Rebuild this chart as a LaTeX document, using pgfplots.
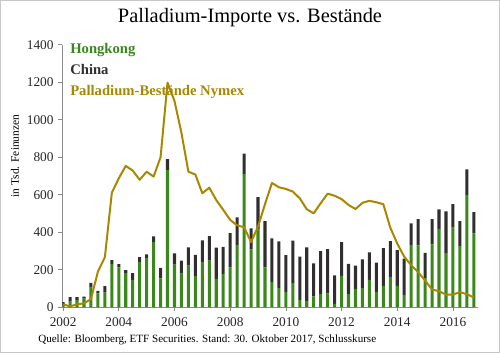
\documentclass[border=0pt]{standalone}
\usepackage{fontspec}
\setmainfont{Liberation Serif}
\usepackage{pgfplots}
\pgfplotsset{compat=1.18}
\usepackage{pgfplotstable}
\definecolor{hkgreen}{RGB}{58,135,28}
\definecolor{cndark}{RGB}{48,46,46}
\definecolor{pdgold}{RGB}{168,136,0}
\definecolor{axgray}{RGB}{140,140,140}

\pgfplotstableread{
x hk cn nymex
2002.00 12 16 16
2002.25 30 25 5
2002.50 40 15 16
2002.75 47 10 21
2003.00 105 25 44
2003.25 75 13 190
2003.50 78 35 267
2003.75 230 22 611
2004.00 213 18 688
2004.25 183 16 754
2004.50 146 37 729
2004.75 242 26 680
2005.00 259 23 723
2005.25 348 30 697
2005.50 155 56 800
2005.75 732 58 1198
2006.00 228 60 1100
2006.25 180 69 930
2006.50 222 98 723
2006.75 167 112 708
2007.00 242 115 608
2007.25 249 131 638
2007.50 152 166 572
2007.75 178 144 520
2008.00 213 182 466
2008.25 332 148 437
2008.50 710 110 427
2008.75 309 112 348
2009.00 415 173 430
2009.25 213 247 550
2009.50 135 233 663
2009.75 102 249 640
2010.00 83 195 631
2010.25 129 227 617
2010.50 40 230 581
2010.75 35 285 523
2011.00 58 177 501
2011.25 70 230 555
2011.50 74 236 606
2011.75 18 152 595
2012.00 168 179 577
2012.25 71 161 546
2012.50 98 124 524
2012.75 103 153 557
2013.00 146 147 568
2013.25 82 157 560
2013.50 114 202 550
2013.75 162 191 425
2014.00 114 191 340
2014.25 66 193 270
2014.50 332 115 225
2014.75 330 140 188
2015.00 157 133 143
2015.25 336 134 95
2015.50 418 104 86
2015.75 289 223 68
2016.00 425 125 68
2016.25 326 134 81
2016.50 599 137 70
2016.75 394 114 52
}\data

\pgfplotsset{
  common/.style={
    at={(0pt,0pt)}, anchor=south west,
    scale only axis, width=311.8pt, height=196.95pt,
    xmin=2001.97, xmax=2016.9, ymin=0, ymax=1400,
  }
}

\begin{document}
\begin{tikzpicture}
\path[use as bounding box] (-46.7pt,-34.3pt) rectangle (328.3pt,230.5pt);
\draw[black!22, line width=0.8pt] (-46.3pt,-33.9pt) rectangle (327.9pt,230.1pt);
\begin{axis}[common,
  ybar stacked, bar width=2.3pt,
  axis x line*=bottom, axis y line*=left,
  axis line style={axgray, -},
  tick style={axgray, line width=0.5pt},
  tick align=outside, major tick length=3pt,
  xtick={2002,2004,...,2016}, ytick={0,200,...,1400},
  /pgf/number format/1000 sep={},
  /pgf/number format/assume math mode=true,
  tick label style={font=\fontsize{10}{12}\selectfont, text=black!85},
  xticklabel style={yshift=-1.5pt},
  legend style={at={(rel axis cs:0.0,1)}, anchor=north west, xshift=5.8pt, yshift=1.25pt,
    draw=none, fill=none, inner sep=0pt, row sep=5.75pt,
    font=\bfseries\fontsize{11}{13}\selectfont,
    nodes={inner sep=0pt, text height=7.5pt, text depth=2.5pt}},
  legend cell align=left,
  legend image code/.code={},
]
\addplot[fill=hkgreen, draw=none] table[x=x, y=hk]{\data};
\addlegendentry[text=hkgreen]{Hongkong}
\addplot[fill=cndark, draw=none] table[x=x, y=cn]{\data};
\addlegendentry[text=cndark]{China}
\addlegendimage{empty legend}
\addlegendentry[text=pdgold]{Palladium-Bestände Nymex}
\end{axis}
\begin{axis}[common, hide axis]
\addplot[pdgold, line width=1.5pt, line join=round, mark=none] table[x=x, y=nymex]{\data};
\end{axis}
\node[font=\fontsize{15.3}{18}\selectfont] at (140.8pt,217pt) {Palladium-Importe vs. Bestände};
\node[rotate=90, font=\fontsize{8.6}{10}\selectfont] at (-35.5pt,113.5pt) {in Tsd. Feinunzen};
\node[anchor=west, font=\fontsize{8.3}{10}\selectfont, inner sep=0pt] at (-18.2pt,-24.5pt) {Quelle: Bloomberg, ETF Securities. Stand: 30. Oktober 2017, Schlusskurse};
\end{tikzpicture}
\end{document}
